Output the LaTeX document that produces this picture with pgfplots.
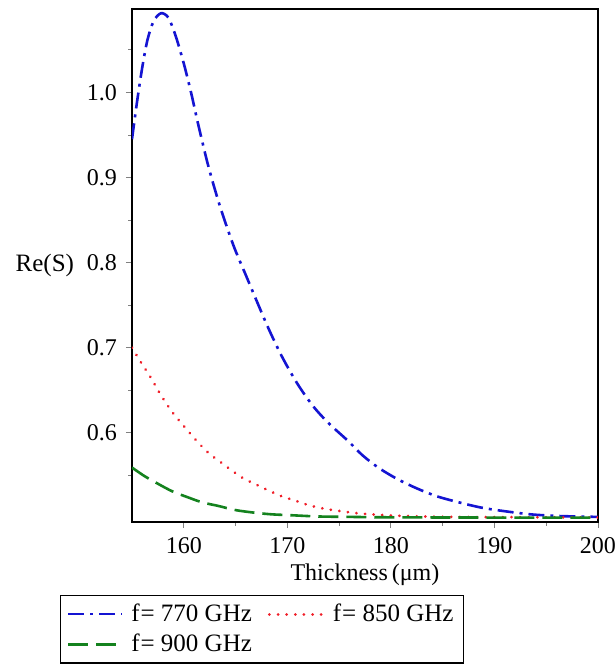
\documentclass[border=0pt]{standalone}
\usepackage{fontspec}
\setmainfont{Liberation Serif}
\usepackage{pgfplots}
\pgfplotsset{compat=1.18}
\begin{document}
\begin{tikzpicture}
\begin{axis}[
  at={(0,0)}, anchor=south west,
  scale only axis,
  width=233pt, height=256.5pt,
  xmin=155, xmax=200, ymin=0.495, ymax=1.098,
  xtick={160,170,180,190,200},
  ytick={0.6,0.7,0.8,0.9,1.0},
  minor xtick={165,175,185,195},
  minor ytick={0.55,0.65,0.75,0.85,0.95,1.05},
  tick align=outside,
  major tick length=3pt, minor tick length=1.8pt,
  every tick/.style={gray, line width=0.4pt},
  axis line style={line width=1pt},
  tick label style={font=\fontsize{12}{14}\selectfont},
  /pgf/number format/assume math mode=true,
  /pgf/number format/.cd, fixed, fixed zerofill, precision=1,
  /pgfplots/.cd,
  xticklabel={\pgfmathprintnumber[fixed,precision=0]{\tick}},
  xtick pos=bottom, ytick pos=left,
  yticklabel style={xshift=-1pt},
  xticklabel style={yshift=-1pt},
  xlabel={Thickness\,(μm)},
  ylabel={Re(S)},
  every axis x label/.style={at={(axis description cs:0.5,-0.103)}, anchor=center, font=\fontsize{12}{14}\selectfont},
  every axis y label/.style={at={(axis description cs:-0.187,0.5)}, anchor=center, font=\fontsize{12.5}{14}\selectfont},
  legend columns=2,
  legend style={at={(axis description cs:-0.1545,-0.1423)}, anchor=north west,
    draw=black, line width=0.7pt, font=\fontsize{12.5}{15}\selectfont,
    inner xsep=3pt, inner ysep=2pt, row sep=1pt,
    /tikz/every odd column/.append style={column sep=2pt},
    /tikz/every even column/.append style={column sep=6pt}},
  legend cell align=left,
  legend image code/.code={\draw[#1] (0pt,0pt) -- (27pt,0pt);},
]
\addplot[smooth, tension=0.5, color={rgb,255:red,20;green,20;blue,210}, line width=1.3pt, dash pattern=on 8pt off 3pt on 1.5pt off 3pt] coordinates {
(155.0,0.945) (155.5,0.99) (156.0,1.03) (156.5,1.062) (157.1,1.084) (157.8,1.093) (158.5,1.088)
(159.2,1.067) (160.0,1.034) (160.7,1.000) (161.4,0.962) (162.4,0.912) (163.5,0.866) (164.8,0.82)
(166.0,0.785) (167.0,0.756) (168.2,0.722) (169.5,0.689) (171.0,0.657) (172.5,0.631)
(174.0,0.611) (175.8,0.591) (177.3,0.573) (178.9,0.558) (180.7,0.545) (182.6,0.534)
(184.5,0.525) (186.6,0.518) (188.7,0.512) (190.8,0.508) (193.5,0.504) (196.3,0.502) (200.0,0.501)
};
\addlegendentry{f\kern0.5pt= 770 GHz}
\addplot[smooth, tension=0.5, color={rgb,255:red,240;green,30;blue,40}, line width=1.5pt, line cap=round, dash pattern=on 0.01pt off 4.3pt] coordinates {
(155.0,0.700) (155.9,0.682) (156.8,0.665) (157.8,0.644) (158.9,0.624) (160.2,0.605)
(161.5,0.587) (162.5,0.575) (163.6,0.565) (164.7,0.555) (165.8,0.546) (167.0,0.539)
(168.2,0.532) (169.5,0.525) (170.8,0.520) (172.0,0.515) (173.4,0.511) (175.0,0.508)
(177.0,0.505) (179.5,0.503) (183.0,0.5015) (188.0,0.5008) (200.0,0.5003)
};
\addlegendentry{f\kern0.5pt= 850 GHz}
\addplot[smooth, tension=0.5, color={rgb,255:red,20;green,130;blue,30}, line width=1.3pt, dash pattern=on 10pt off 4pt] coordinates {
(155.0,0.559) (156.2,0.549) (157.5,0.540) (158.9,0.531) (160.4,0.524) (161.8,0.518)
(163.3,0.514) (165.0,0.509) (166.8,0.506) (168.5,0.504) (170.3,0.503) (173.0,0.5015)
(176.0,0.501) (180.0,0.5005) (190.0,0.5002) (200.0,0.5001)
};
\addlegendentry{f\kern0.5pt= 900 GHz}
\end{axis}
\pgfresetboundingbox
\path (-66pt,-74.5pt) rectangle (242pt,261pt);
\end{tikzpicture}
\end{document}
